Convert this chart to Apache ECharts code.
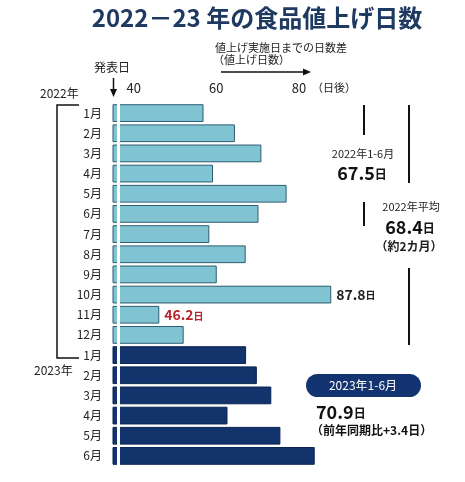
<!DOCTYPE html>
<html><head><meta charset="utf-8">
<script src="https://cdn.jsdelivr.net/npm/echarts@6/dist/echarts.min.js"></script>
<style>html,body{margin:0;padding:0;background:#fff;}#c{width:465px;height:482px;}</style>
</head><body><div id="c"></div>
<script>
const months2022 = ['1月','2月','3月','4月','5月','6月','7月','8月','9月','10月','11月','12月'];
const months2023 = ['1月','2月','3月','4月','5月','6月'];
const values2022 = [56.9, 64.5, 70.9, 59.2, 77.0, 70.2, 58.3, 67.1, 60.1, 87.8, 46.2, 52.1];
const values2023 = [67.2, 69.8, 73.3, 62.7, 75.5, 83.8];
const xTicks = [40, 60, 80];
const labelled = {9: 'num', 10: 'red'};

const FONT = '"Noto Sans CJK JP", "Noto Sans", sans-serif';
const categories = months2022.concat(months2023);
const light = values2022.map((v, i) => {
  const item = {value: v};
  if (labelled[i] === 'num') item.label = {show: true, formatter: '{n|' + v.toFixed(1) + '}{d|日}'};
  if (labelled[i] === 'red') item.label = {show: true, formatter: '{r|' + v.toFixed(1) + '}{rd|日}'};
  return item;
}).concat(values2023.map(() => null));
const dark = values2022.map(() => null).concat(values2023);

const chart = echarts.init(document.getElementById('c'));
const txt = (x, y, text, size, opts) => Object.assign({
  type: 'text', x: x, y: y, silent: true,
  style: Object.assign({text: text, fontSize: size, fontFamily: FONT, fill: '#222', align: 'left', verticalAlign: 'middle'}, opts || {})
});
const line = (pts, w) => ({type: 'polyline', silent: true, shape: {points: pts}, style: {stroke: '#111', lineWidth: w || 2, fill: null}});

chart.setOption({
  animation: false,
  backgroundColor: '#fff',
  grid: {left: 113, right: 42, top: 103, bottom: 16},
  xAxis: {
    type: 'value', position: 'top', min: 35, max: 110,
    axisLine: {show: false}, axisTick: {show: false}, splitLine: {show: false},
    axisLabel: {customValues: xTicks, fontSize: 13, color: '#222', margin: 8, fontFamily: FONT}
  },
  yAxis: {
    type: 'category', inverse: true, data: categories,
    axisLine: {show: false}, axisTick: {show: false},
    axisLabel: {fontSize: 12, color: '#222', margin: 11, fontFamily: FONT}
  },
  series: [
    {
      type: 'bar', data: light, barCategoryGap: '12%', barGap: '-100%',
      itemStyle: {color: '#80c4d3', borderColor: '#2c5c70', borderWidth: 1},
      label: {
        show: false, position: 'right', distance: 5, fontFamily: FONT,
        rich: {
          n: {fontSize: 14, fontWeight: 'bold', color: '#222', fontFamily: FONT},
          d: {fontSize: 10, fontWeight: 'bold', color: '#222', fontFamily: FONT, padding: [2, 0, 0, 0]},
          r: {fontSize: 14, fontWeight: 'bold', color: '#b8262e', fontFamily: FONT},
          rd: {fontSize: 10, fontWeight: 'bold', color: '#b8262e', fontFamily: FONT, padding: [2, 0, 0, 0]}
        }
      },
      markLine: {
        silent: true, symbol: 'none', label: {show: false},
        lineStyle: {color: '#fff', width: 3, type: 'solid'},
        data: [{xAxis: 36.3}]
      },
      z: 2
    },
    {
      type: 'bar', data: dark, barCategoryGap: '12%', barGap: '-100%',
      itemStyle: {color: '#12336b', borderColor: '#0a2250', borderWidth: 1},
      z: 2
    }
  ],
  graphic: [
    txt(257, 18, '2022－23 年の食品値上げ日数', 24, {align: 'center', fontWeight: 'bold', fill: '#1f3a60'}),
    txt(215, 48, '値上げ実施日までの日数差', 11),
    txt(213, 60, '（値上げ日数）', 11),
    line([[221, 72], [305, 72]], 1.5),
    {type: 'polygon', silent: true, shape: {points: [[311, 72], [303, 68.5], [303, 75.5]]}, style: {fill: '#111'}},
    txt(112, 67, '発表日', 12, {align: 'center'}),
    line([[113.5, 78], [113.5, 91]], 1.5),
    {type: 'polygon', silent: true, shape: {points: [[113.5, 97], [110, 89], [117, 89]]}, style: {fill: '#111'}},
    txt(312, 88, '（日後）', 11),
    txt(40, 93, '2022年', 12),
    txt(34, 370, '2023年', 12),
    line([[79, 105], [57, 105], [57, 358], [79, 358]], 1.5),
    line([[364, 105], [364, 135]], 2),
    line([[409, 105], [409, 183]], 2),
    line([[364, 202], [364, 226]], 2),
    line([[409, 268], [409, 345]], 2),
    txt(363, 154, '2022年1-6月', 11, {align: 'center'}),
    {type: 'text', x: 362, y: 173, silent: true, style: {text: '{a|67.5}{b|日}', align: 'center', verticalAlign: 'middle',
      rich: {a: {fontSize: 18, fontWeight: 'bold', fill: '#111', fontFamily: FONT}, b: {fontSize: 12, fontWeight: 'bold', fill: '#111', fontFamily: FONT, padding: [3, 0, 0, 0]}}}},
    txt(411, 207, '2022年平均', 11, {align: 'center'}),
    {type: 'text', x: 410, y: 227, silent: true, style: {text: '{a|68.4}{b|日}', align: 'center', verticalAlign: 'middle',
      rich: {a: {fontSize: 18, fontWeight: 'bold', fill: '#111', fontFamily: FONT}, b: {fontSize: 12, fontWeight: 'bold', fill: '#111', fontFamily: FONT, padding: [3, 0, 0, 0]}}}},
    txt(409, 246, '（約2カ月）', 12, {align: 'center', fontWeight: 'bold'}),
    {type: 'rect', silent: true, shape: {x: 306, y: 374, width: 115, height: 23, r: 11.5}, style: {fill: '#133470'}},
    txt(363, 385.5, '2023年1-6月', 12, {align: 'center', fill: '#fff'}),
    {type: 'text', x: 316, y: 412, silent: true, style: {text: '{a|70.9}{b|日}', align: 'left', verticalAlign: 'middle',
      rich: {a: {fontSize: 18, fontWeight: 'bold', fill: '#111', fontFamily: FONT}, b: {fontSize: 12, fontWeight: 'bold', fill: '#111', fontFamily: FONT, padding: [3, 0, 0, 0]}}}},
    txt(311, 430, '（前年同期比+3.4日）', 12, {fontWeight: 'bold', fill: '#111'})
  ]
});
</script>
</body></html>
